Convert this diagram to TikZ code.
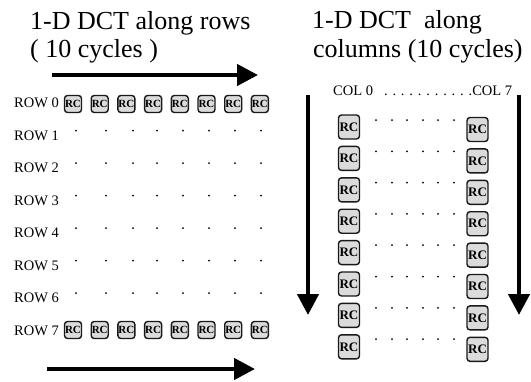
\documentclass[tikz,border=0pt]{standalone}
\usepackage{fontspec}
\setmainfont{Liberation Serif}
\usetikzlibrary{arrows.meta}
\begin{document}
\begin{tikzpicture}[x=1pt,y=-1pt,
  title/.style={anchor=base west, inner sep=0pt, font=\fontsize{26}{30}\selectfont},
  lbl/.style={anchor=west, inner sep=0pt, font=\fontsize{14.5}{16}\selectfont},
  rc/.style={draw=black!90, line width=1.4pt, fill=black!14, rounded corners=3pt,
    minimum width=17pt, minimum height=17pt, inner sep=0pt,
    font=\bfseries\fontsize{11}{11}\selectfont},
  rcbig/.style={rc, minimum width=21pt, minimum height=24pt,
    font=\bfseries\fontsize{13}{13}\selectfont},
  gdot/.style={circle, fill=black, inner sep=0pt, minimum size=2pt},
  bigarrow/.style={line width=4.5pt, -{Triangle[length=21pt,width=21pt]}}]
\useasboundingbox (0,0) rectangle (531,381);

% titles
\node[title] (t1a) at (30,29) {1-D DCT along rows};
\node[title] (t1b) at (30,57) {( 10 cycles )};
\node[title] (t2a) at (312,28) {1-D DCT\ \ along};
\node[title] (t2b) at (313,57) {columns (10 cycles)};

% horizontal arrows
\coordinate (ta) at (52,75);  \coordinate (tb) at (258,75);
\draw[bigarrow] (ta) -- (tb);
\coordinate (ba) at (47,369); \coordinate (bb) at (255,369);
\draw[bigarrow] (ba) -- (bb);

% row labels
\foreach \r in {0,...,7}
  \node[lbl] (row\r) at (14,{103+32.5*\r}) {ROW \r};

% RC boxes rows 0 and 7
\foreach \c in {0,...,7} {
  \node[rc] (a\c) at ({73+26.7*\c},104) {RC};
  \node[rc] (b\c) at ({73+26.7*\c},330) {RC};
}

% dots rows 1-6
\foreach \r in {1,...,6}
  \foreach \x [count=\i] in {76,106,133,157,183,209,235,261}
    \node[gdot] (d\r-\i) at (\x,{98+32.5*\r}) {};

% right part
\node[lbl] (colhdr) at (333,91) {COL 0\hspace{11pt}. . . . . . . . . . .COL 7};

\coordinate (la) at (308,95); \coordinate (lb) at (308,315);
\draw[bigarrow] (la) -- (lb);
\coordinate (ra) at (519,95); \coordinate (rb) at (519,315);
\draw[bigarrow] (ra) -- (rb);

\foreach \i in {0,...,7} {
  \node[rcbig] (L\i) at (349,{127+31.4*\i}) {RC};
  \node[rcbig] (R\i) at (477.5,{129.5+31.4*\i}) {RC};
  \foreach \x [count=\j] in {376,392,407,423,438,454}
    \node[gdot] (e\i-\j) at (\x,{120+31.3*\i}) {};
}
\end{tikzpicture}
\end{document}
